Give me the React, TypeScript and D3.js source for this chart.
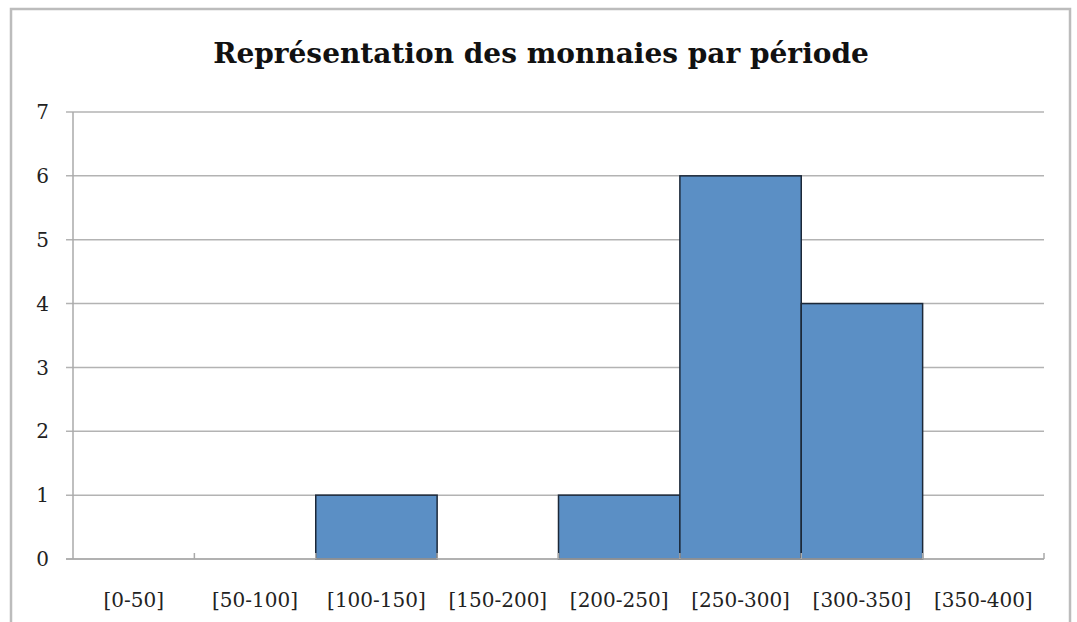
import React from 'react';
import * as d3 from 'd3';

const categories = ['[0-50]', '[50-100]', '[100-150]', '[150-200]', '[200-250]', '[250-300]', '[300-350]', '[350-400]'];
const counts = [0, 0, 1, 0, 1, 6, 4, 0];
const yTicks = [0, 1, 2, 3, 4, 5, 6, 7];
const title = 'Représentation des monnaies par période';

const width = 1077;
const height = 622;
const left = 73;
const right = 1044;
const top = 112;
const bottom = 559;

const x = d3.scaleBand().domain(categories).range([left, right]).padding(0);
const y = d3.scaleLinear().domain([0, 7]).range([bottom, top]);

const App = () => {
    const bw = x.bandwidth();
    return (
        <svg width={width} height={height} style={{ position: 'absolute', left: 0, top: 0, background: '#fff' }}>
            {/* outer frame */}
            <rect x={11} y={9} width={1059} height={640} fill="#fff" stroke="#bcbcbc" strokeWidth={2.5} />
            <text x={541} y={63} textAnchor="middle" fontFamily="DejaVu Serif" fontWeight="bold" fontSize={28} fill="#111">
                {title}
            </text>

            {/* gridlines + y ticks */}
            {yTicks.map(t => (
                <g key={t}>
                    <line x1={66} x2={right} y1={y(t)} y2={y(t)} stroke="#b3b3b3" strokeWidth={1.5} />
                    <text x={49} y={y(t)} dy="0.36em" textAnchor="end" fontFamily="DejaVu Serif" fontSize={20} fill="#222">
                        {t}
                    </text>
                </g>
            ))}

            {/* bars */}
            {categories.map((c, i) => counts[i] > 0 && (
                <rect key={c} x={x(c)} y={y(counts[i])} width={bw} height={y(0) - y(counts[i])}
                    fill="#5b8fc5" stroke="#1c2838" strokeWidth={1.5} />
            ))}

            {/* axes */}
            <line x1={left} x2={left} y1={top} y2={bottom} stroke="#aaaaaa" strokeWidth={1.5} />
            <line x1={66} x2={right} y1={bottom} y2={bottom} stroke="#aaaaaa" strokeWidth={1.5} />
            {categories.map(c => (
                <line key={'t' + c} x1={(x(c) as number) + bw} x2={(x(c) as number) + bw} y1={bottom - 6} y2={bottom}
                    stroke="#aaaaaa" strokeWidth={1.5} />
            ))}

            {/* category labels */}
            {categories.map(c => (
                <text key={'l' + c} x={(x(c) as number) + bw / 2} y={607} textAnchor="middle"
                    fontFamily="DejaVu Serif" fontSize={20} fill="#222">
                    {c}
                </text>
            ))}
        </svg>
    );
};

export default App;
